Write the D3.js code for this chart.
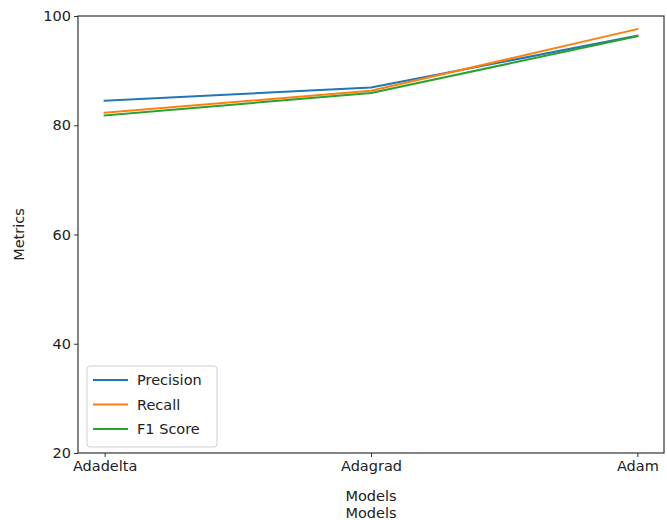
<!DOCTYPE html>
<html>
<head>
<meta charset="utf-8">
<script src="https://cdn.jsdelivr.net/npm/d3@7"></script>
<style>
  html, body { margin: 0; padding: 0; background: #fff; }
  svg { display: block; font-family: "DejaVu Sans", sans-serif; }
</style>
</head>
<body>
<svg id="chart" width="667" height="520"></svg>
<script>
// Optimizer comparison: metrics per model
const models = ["Adadelta", "Adagrad", "Adam"];
const precision = [84.5, 86.9, 96.4];
const recall = [82.3, 86.3, 97.6];
const f1Score = [81.8, 85.9, 96.3];
const yTicks = [20, 40, 60, 80, 100];

const seriesNames = ["Precision", "Recall", "F1 Score"];
const seriesValues = [precision, recall, f1Score];
const colors = ["#1f77b4", "#ff7f0e", "#2ca02c"];

const FONT = 14.5;
const svg = d3.select("#chart");
const margin = { left: 78, right: 3, top: 16, bottom: 67 };
const W = 667, H = 520;
const innerW = W - margin.left - margin.right;
const innerH = H - margin.top - margin.bottom;

const x = d3.scaleLinear().domain([-0.1, models.length - 1 + 0.1]).range([0, innerW]);
const y = d3.scaleLinear().domain([20, 100]).range([innerH, 0]);

const g = svg.append("g").attr("transform", `translate(${margin.left},${margin.top})`);

// lines
const line = d3.line().x((d, i) => x(i)).y(d => y(d));
seriesValues.forEach((vals, k) => {
  g.append("path")
    .datum(vals)
    .attr("fill", "none")
    .attr("stroke", colors[k])
    .attr("stroke-width", 2)
    .attr("stroke-linecap", "square")
    .attr("d", line);
});

// axes
const xAxis = d3.axisBottom(x)
  .tickValues(models.map((m, i) => i))
  .tickFormat(i => models[i])
  .tickSize(4).tickPadding(4);
const yAxis = d3.axisLeft(y).tickValues(yTicks).tickSize(4).tickPadding(3);

const gx = g.append("g").attr("transform", `translate(0,${innerH})`).call(xAxis);
const gy = g.append("g").call(yAxis);
[gx, gy].forEach(a => {
  a.select(".domain").remove();
  a.selectAll("line").attr("stroke", "#333");
  a.selectAll("text").attr("font-size", FONT).attr("fill", "#222")
    .attr("font-family", "DejaVu Sans, sans-serif");
});

// frame
g.append("rect")
  .attr("x", 0).attr("y", 0).attr("width", innerW).attr("height", innerH)
  .attr("fill", "none").attr("stroke", "#333").attr("stroke-width", 1.2);

// axis labels
svg.append("text")
  .attr("x", margin.left + x(1)).attr("y", 501)
  .attr("text-anchor", "middle").attr("font-size", FONT).attr("fill", "#222")
  .text("Models");
svg.append("text")
  .attr("x", margin.left + x(1)).attr("y", 518)
  .attr("text-anchor", "middle").attr("font-size", FONT).attr("fill", "#222")
  .text("Models");
svg.append("text")
  .attr("transform", `translate(24,${margin.top + innerH / 2}) rotate(-90)`)
  .attr("text-anchor", "middle").attr("font-size", FONT).attr("fill", "#222")
  .text("Metrics");

// legend
const lg = g.append("g").attr("transform", "translate(9,350)");
lg.append("rect")
  .attr("width", 130).attr("height", 81).attr("rx", 3)
  .attr("fill", "#fff").attr("fill-opacity", 0.8)
  .attr("stroke", "#d0d0d0");
seriesNames.forEach((name, k) => {
  const yy = 14 + k * 24.5;
  lg.append("line")
    .attr("x1", 6).attr("x2", 41).attr("y1", yy).attr("y2", yy)
    .attr("stroke", colors[k]).attr("stroke-width", 2);
  lg.append("text")
    .attr("x", 50).attr("y", yy + 5)
    .attr("font-size", FONT).attr("fill", "#222")
    .text(name);
});
</script>
</body>
</html>
